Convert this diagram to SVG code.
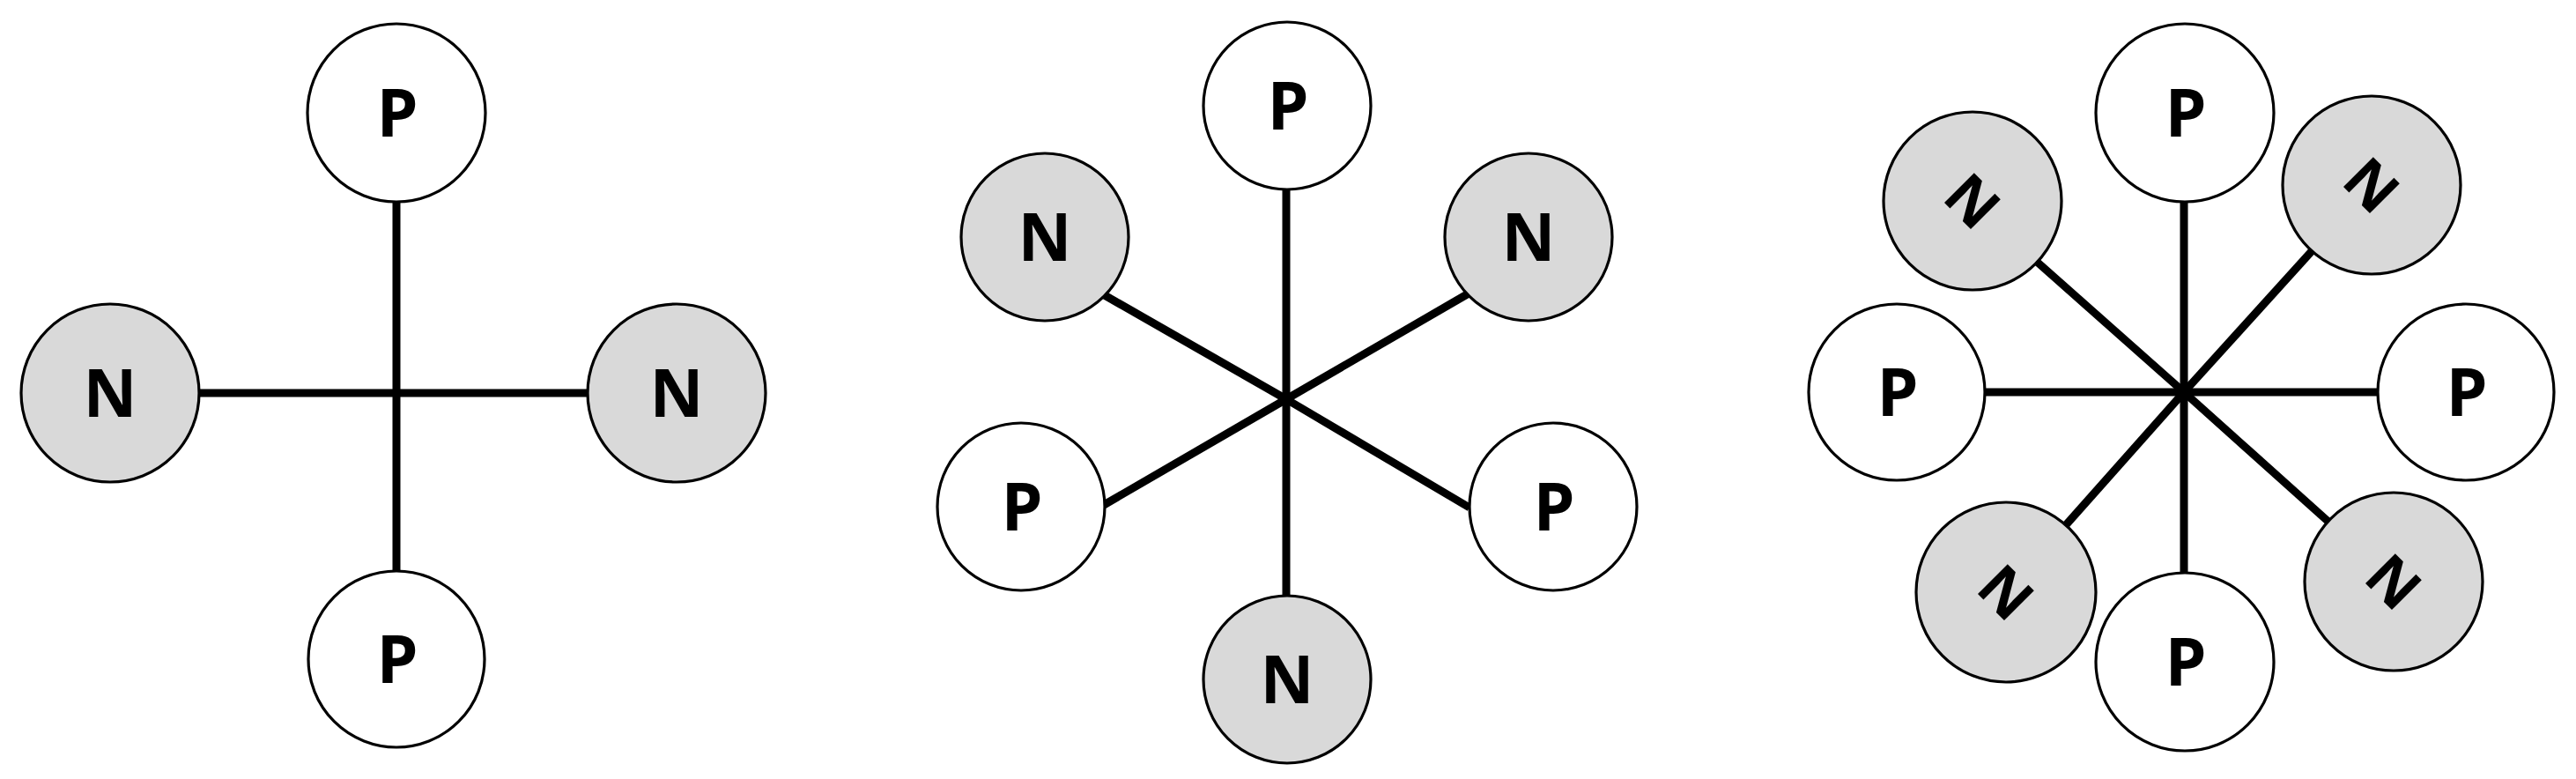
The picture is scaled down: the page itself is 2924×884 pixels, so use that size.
<svg xmlns="http://www.w3.org/2000/svg" width="2924" height="884" viewBox="0 0 2924 884">
<style>
  .bg { fill: #ffffff; }
  .spoke { stroke: #000000; stroke-width: 9; stroke-linecap: butt; fill: none; }
  .p { fill: #ffffff; stroke: #000000; stroke-width: 3.2; }
  .n { fill: #d9d9d9; stroke: #000000; stroke-width: 3.2; }
  .lbl { font-family: "Open Sans", "Liberation Sans", sans-serif; font-weight: 700; font-size: 75px; fill: #000000; text-anchor: middle; }
  .lbl-r { font-family: "Open Sans", "Liberation Sans", sans-serif; font-weight: 700; font-size: 67px; fill: #000000; text-anchor: middle; }
</style>
<rect class="bg" x="0" y="0" width="2924" height="884"/>

<g id="connectors">
  <!-- left diagram: hub (450,446) -->
  <line class="spoke" x1="450" y1="446" x2="450" y2="227"/>
  <line class="spoke" x1="450" y1="446" x2="450" y2="649"/>
  <line class="spoke" x1="450" y1="446" x2="224" y2="446"/>
  <line class="spoke" x1="450" y1="446" x2="669" y2="446"/>
  <!-- middle diagram: hub (1460,453) -->
  <line class="spoke" x1="1460" y1="453" x2="1460" y2="213"/>
  <line class="spoke" x1="1460" y1="453" x2="1460" y2="678"/>
  <line class="spoke" x1="1460" y1="453" x2="1252" y2="334"/>
  <line class="spoke" x1="1460" y1="453" x2="1667" y2="333"/>
  <line class="spoke" x1="1460" y1="453" x2="1253" y2="573"/>
  <line class="spoke" x1="1460" y1="453" x2="1668" y2="576"/>
  <!-- right diagram: hub (2479,445) -->
  <line class="spoke" x1="2479" y1="445" x2="2479" y2="227"/>
  <line class="spoke" x1="2479" y1="445" x2="2479" y2="652"/>
  <line class="spoke" x1="2479" y1="445" x2="2252" y2="445"/>
  <line class="spoke" x1="2479" y1="445" x2="2701" y2="445"/>
  <line class="spoke" x1="2479" y1="445" x2="2312" y2="297"/>
  <line class="spoke" x1="2479" y1="445" x2="2624" y2="285"/>
  <line class="spoke" x1="2479" y1="445" x2="2343" y2="598"/>
  <line class="spoke" x1="2479" y1="445" x2="2643" y2="592"/>
</g>

<!-- left diagram -->
<g id="l-p-top"><circle class="p" cx="450" cy="128" r="101"/><text class="lbl" x="451" y="155">P</text></g>
<g id="l-n-left"><circle class="n" cx="125" cy="446" r="101"/><text class="lbl" x="125" y="473">N</text></g>
<g id="l-n-right"><circle class="n" cx="768" cy="446" r="101"/><text class="lbl" x="768" y="473">N</text></g>
<g id="l-p-bottom"><circle class="p" cx="450" cy="748" r="100"/><text class="lbl" x="451" y="775">P</text></g>

<!-- middle diagram -->
<g id="m-p-top"><circle class="p" cx="1461" cy="120" r="95"/><text class="lbl" x="1462" y="147">P</text></g>
<g id="m-n-ul"><circle class="n" cx="1186" cy="269" r="95"/><text class="lbl" x="1186" y="296">N</text></g>
<g id="m-n-ur"><circle class="n" cx="1735" cy="269" r="95"/><text class="lbl" x="1735" y="296">N</text></g>
<g id="m-p-ll"><circle class="p" cx="1159" cy="575" r="95"/><text class="lbl" x="1160" y="602">P</text></g>
<g id="m-p-lr"><circle class="p" cx="1763" cy="575" r="95"/><text class="lbl" x="1764" y="602">P</text></g>
<g id="m-n-bottom"><circle class="n" cx="1461" cy="771" r="95"/><text class="lbl" x="1461" y="798">N</text></g>

<!-- right diagram -->
<g id="r-p-top"><circle class="p" cx="2480" cy="128" r="101"/><text class="lbl" x="2481" y="155">P</text></g>
<g id="r-p-left"><circle class="p" cx="2153" cy="445" r="100"/><text class="lbl" x="2154" y="472">P</text></g>
<g id="r-p-right"><circle class="p" cx="2799" cy="445" r="100"/><text class="lbl" x="2800" y="472">P</text></g>
<g id="r-p-bottom"><circle class="p" cx="2480" cy="751" r="101"/><text class="lbl" x="2481" y="778">P</text></g>
<g id="r-n-ul"><circle class="n" cx="2239" cy="228" r="101"/><text class="lbl-r" x="2239" y="252" transform="rotate(45 2239 228)">N</text></g>
<g id="r-n-ur"><circle class="n" cx="2692" cy="210" r="101"/><text class="lbl-r" x="2692" y="234" transform="rotate(45 2692 210)">N</text></g>
<g id="r-n-ll"><circle class="n" cx="2277" cy="672" r="102"/><text class="lbl-r" x="2277" y="696" transform="rotate(45 2277 672)">N</text></g>
<g id="r-n-lr"><circle class="n" cx="2717" cy="660" r="101"/><text class="lbl-r" x="2717" y="684" transform="rotate(45 2717 660)">N</text></g>
</svg>
